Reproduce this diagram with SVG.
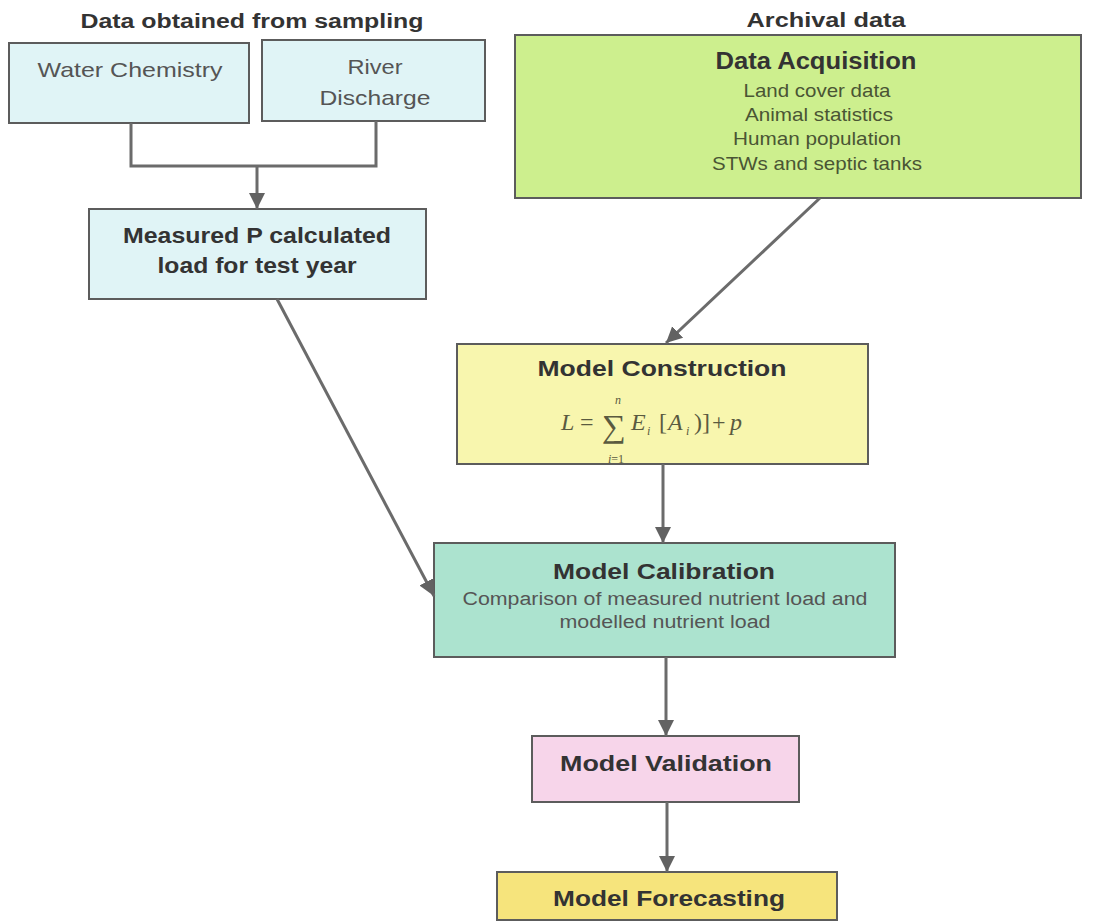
<svg xmlns="http://www.w3.org/2000/svg" width="1103" height="921" viewBox="0 0 1103 921">
<defs>
<style>
.box{stroke:#5c5c5c;stroke-width:2}
.t{font-family:"Liberation Sans",Arial,sans-serif;text-anchor:middle}
.b{font-weight:bold;fill:#333}
.r{fill:#555}
.g{fill:#4a5534}
.conn{fill:none;stroke:#6b6b6b;stroke-width:3}
.m{font-family:"Liberation Serif","Times New Roman",serif;fill:#5a5a40}
</style>
<marker id="ah" markerUnits="userSpaceOnUse" markerWidth="18" markerHeight="18" viewBox="0 0 18 18" refX="16" refY="9" orient="auto">
<path d="M0,1 L16,9 L0,17 Z" fill="#626262"/>
</marker>
</defs>
<rect width="1103" height="921" fill="#ffffff"/>

<g id="title-sampling">
<text class="t b" x="252" y="28" font-size="20" textLength="343" lengthAdjust="spacingAndGlyphs">Data obtained from sampling</text>
</g>
<g id="title-archival">
<text class="t b" x="826" y="27" font-size="20" textLength="159" lengthAdjust="spacingAndGlyphs">Archival data</text>
</g>

<g id="water-chemistry">
<rect class="box" x="9" y="43" width="240" height="80" fill="#e0f4f6"/>
<text class="t r" x="130" y="77" font-size="21" textLength="185" lengthAdjust="spacingAndGlyphs">Water Chemistry</text>
</g>

<g id="river-discharge">
<rect class="box" x="262" y="40" width="223" height="81" fill="#e0f4f6"/>
<text class="t r" x="375" y="74" font-size="21" textLength="55" lengthAdjust="spacingAndGlyphs">River</text>
<text class="t r" x="375" y="105" font-size="21" textLength="111" lengthAdjust="spacingAndGlyphs">Discharge</text>
</g>

<g id="measured-load">
<rect class="box" x="89" y="209" width="337" height="90" fill="#e0f4f6"/>
<text class="t b" x="257" y="243" font-size="22" textLength="268" lengthAdjust="spacingAndGlyphs">Measured P calculated</text>
<text class="t b" x="257" y="273" font-size="22" textLength="199" lengthAdjust="spacingAndGlyphs">load for test year</text>
</g>

<g id="data-acquisition">
<rect class="box" x="515" y="35" width="566" height="163" fill="#cdef8e"/>
<text class="t b" x="816" y="69" font-size="23" textLength="201" lengthAdjust="spacingAndGlyphs">Data Acquisition</text>
<text class="t g" x="817" y="97" font-size="19" textLength="147" lengthAdjust="spacingAndGlyphs">Land cover data</text>
<text class="t g" x="819" y="121" font-size="19" textLength="148" lengthAdjust="spacingAndGlyphs">Animal statistics</text>
<text class="t g" x="817" y="145" font-size="19" textLength="168" lengthAdjust="spacingAndGlyphs">Human population</text>
<text class="t g" x="817" y="170" font-size="19" textLength="210" lengthAdjust="spacingAndGlyphs">STWs and septic tanks</text>
</g>

<g id="model-construction">
<rect class="box" x="457" y="344" width="411" height="120" fill="#f8f6ae"/>
<text class="t b" x="662" y="376" font-size="22" textLength="249" lengthAdjust="spacingAndGlyphs">Model Construction</text>
<text class="m" y="430" font-size="24"><tspan x="561" font-style="italic">L</tspan><tspan x="580">=</tspan></text>
<text class="m" x="602" y="437" font-size="32" textLength="24" lengthAdjust="spacingAndGlyphs">∑</text>
<text class="m" x="615" y="404" font-size="12" font-style="italic">n</text>
<text class="m" x="608" y="463" font-size="12"><tspan font-style="italic">i</tspan>=1</text>
<text class="m" y="430" font-size="24"><tspan x="631" font-style="italic">E</tspan><tspan x="659">[</tspan><tspan x="668" font-style="italic">A</tspan><tspan x="694">)]</tspan><tspan x="712">+</tspan><tspan x="730" font-style="italic">p</tspan></text>
<text class="m" y="435" font-size="12" font-style="italic"><tspan x="647">i</tspan><tspan x="686">i</tspan></text>
</g>

<g id="model-calibration">
<rect class="box" x="434" y="543" width="461" height="114" fill="#ace3cf"/>
<text class="t b" x="664" y="579" font-size="22" textLength="222" lengthAdjust="spacingAndGlyphs">Model Calibration</text>
<text class="t r" x="665" y="605" font-size="18" textLength="405" lengthAdjust="spacingAndGlyphs">Comparison of measured nutrient load and</text>
<text class="t r" x="665" y="628" font-size="18" textLength="211" lengthAdjust="spacingAndGlyphs">modelled nutrient load</text>
</g>

<g id="model-validation">
<rect class="box" x="532" y="736" width="267" height="66" fill="#f7d5ea"/>
<text class="t b" x="666" y="771" font-size="22" textLength="212" lengthAdjust="spacingAndGlyphs">Model Validation</text>
</g>

<g id="model-forecasting">
<rect class="box" x="497" y="872" width="340" height="48" fill="#f6e47c"/>
<text class="t b" x="669" y="906" font-size="22" textLength="232" lengthAdjust="spacingAndGlyphs">Model Forecasting</text>
</g>

<g id="connectors">
<path class="conn" d="M131,123 V166 H376 V121"/>
<path class="conn" d="M257,166 V209" marker-end="url(#ah)"/>
<path class="conn" d="M277,299 L434,596" marker-end="url(#ah)"/>
<path class="conn" d="M820,198 L666,343" marker-end="url(#ah)"/>
<path class="conn" d="M663,464 V543" marker-end="url(#ah)"/>
<path class="conn" d="M666,657 V736" marker-end="url(#ah)"/>
<path class="conn" d="M667,802 V872" marker-end="url(#ah)"/>
</g>
</svg>
